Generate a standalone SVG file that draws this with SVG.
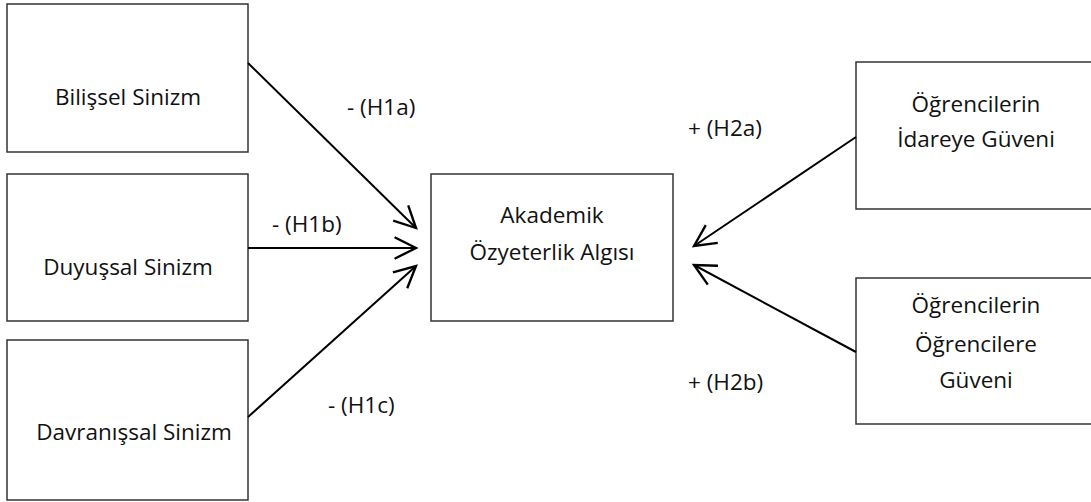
<svg xmlns="http://www.w3.org/2000/svg" width="1091" height="502" viewBox="0 0 1091 502">
<style>
.box{fill:#fff;stroke:#333;stroke-width:1.5}
.t{font-family:"Open Sans","Liberation Sans",sans-serif;font-size:22.5px;fill:#111;text-anchor:middle}
.l{font-family:"Open Sans","Liberation Sans",sans-serif;font-size:22.5px;fill:#111}
.c{stroke:#000;stroke-width:2;fill:none;marker-end:url(#ah)}
</style>
<defs>
<marker id="ah" markerUnits="userSpaceOnUse" markerWidth="30" markerHeight="30" viewBox="-24 -14 28 28" refX="0" refY="0" orient="auto">
<path d="M-20,-10 L0,0 L-20,10" fill="none" stroke="#000" stroke-width="2.2"/>
</marker>
</defs>
<rect width="1091" height="502" fill="#fff"/>
<g id="n-bilissel"><rect class="box" x="7" y="4" width="241" height="148"/><text class="t" x="128" y="105">Bilişsel Sinizm</text></g>
<g id="n-duyussal"><rect class="box" x="7" y="174" width="241" height="147"/><text class="t" x="128" y="275">Duyuşsal Sinizm</text></g>
<g id="n-davranissal"><rect class="box" x="7" y="340" width="241" height="160"/><text class="t" x="134" y="440">Davranışsal Sinizm</text></g>
<g id="n-akademik"><rect class="box" x="431" y="174" width="242" height="147"/><text class="t" x="552" y="223">Akademik</text><text class="t" x="552" y="260">Özyeterlik Algısı</text></g>
<g id="n-idare"><rect class="box" x="856" y="62" width="241" height="147"/><text class="t" x="976" y="112">Öğrencilerin</text><text class="t" x="976" y="147">İdareye Güveni</text></g>
<g id="n-ogrenci"><rect class="box" x="856" y="278" width="241" height="146"/><text class="t" x="976" y="313">Öğrencilerin</text><text class="t" x="976" y="352">Öğrencilere</text><text class="t" x="976" y="388">Güveni</text></g>
<g id="connectors">
<line class="c" x1="248" y1="63" x2="416" y2="228"/>
<line class="c" x1="248" y1="248" x2="416" y2="248"/>
<line class="c" x1="248" y1="417" x2="416" y2="266"/>
<line class="c" x1="856" y1="137" x2="694" y2="246"/>
<line class="c" x1="856" y1="352" x2="694" y2="265"/>
<text class="l" x="347" y="115">- (H1a)</text>
<text class="l" x="272" y="232">- (H1b)</text>
<text class="l" x="328" y="413">- (H1c)</text>
<text class="l" x="688" y="136">+ (H2a)</text>
<text class="l" x="688" y="390">+ (H2b)</text>
</g>
</svg>
